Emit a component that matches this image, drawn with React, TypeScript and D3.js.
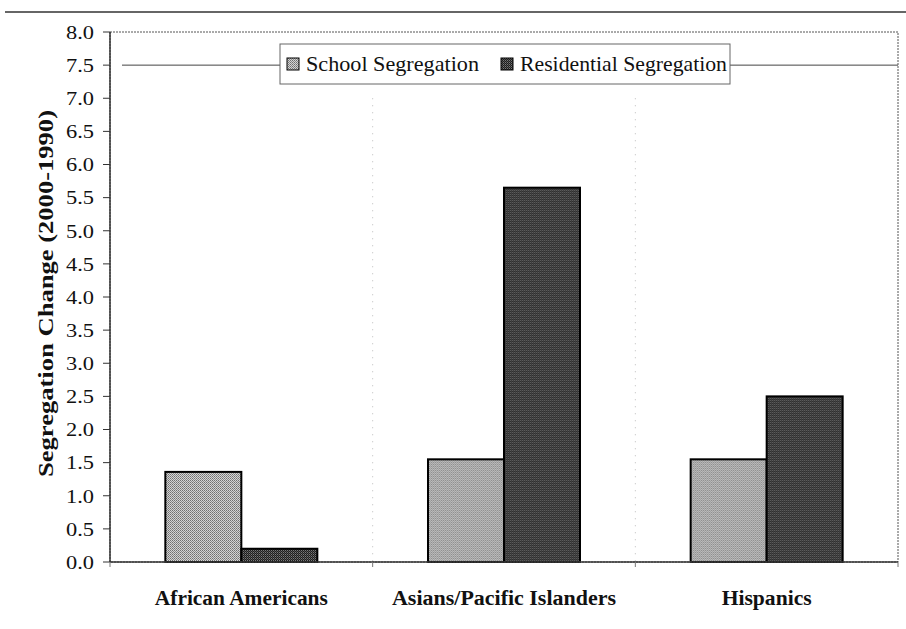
import React from 'react';
import * as d3 from 'd3';

// values
const categories = ['African Americans', 'Asians/Pacific Islanders', 'Hispanics'];
const categoryLabelWidths = [173, 224, 90];
const seriesNames = ['School Segregation', 'Residential Segregation'];
const schoolSegregation = [1.36, 1.55, 1.55];
const residentialSegregation = [0.2, 5.65, 2.5];
const yTickValues = [0, 0.5, 1, 1.5, 2, 2.5, 3, 3.5, 4, 4.5, 5, 5.5, 6, 6.5, 7, 7.5, 8];

const W = 906;
const H = 629;
const margin = { top: 32, right: 8, bottom: 67, left: 110 };
const serif = "'Liberation Serif', 'DejaVu Serif', serif";

const App = () => {
  const plotW = W - margin.left - margin.right;
  const plotH = H - margin.top - margin.bottom;

  const x = d3.scaleBand<string>().domain(categories).range([0, plotW]);
  const inner = d3.scaleBand<string>()
    .domain(['school', 'residential'])
    .range([0, x.step()])
    .paddingInner(0)
    .paddingOuter(0.728);
  const y = d3.scaleLinear().domain([0, 8]).range([plotH, 0]);

  const rows = categories.map((c, i) => ({
    category: c,
    school: schoolSegregation[i],
    residential: residentialSegregation[i],
  }));

  const fills: Record<string, string> = {
    school: 'url(#stippleLight)',
    residential: 'url(#stippleDark)',
  };

  // legend box
  const legX = 280;
  const legY = 44;
  const legW = 450;
  const legH = 40;

  return (
    <div style={{ position: 'absolute', left: 0, top: 0 }}>
      <svg width={W} height={H} style={{ display: 'block', background: '#fff', fontFamily: serif }}>
        <defs>
          <pattern id="stippleLight" width="2" height="2" patternUnits="userSpaceOnUse">
            <rect width="2" height="2" fill="#d4d4d4" />
            <rect x="0" y="0" width="1" height="1" fill="#707070" />
            <rect x="1" y="1" width="1" height="1" fill="#8a8a8a" />
          </pattern>
          <pattern id="stippleDark" width="2" height="2" patternUnits="userSpaceOnUse">
            <rect width="2" height="2" fill="#1e1e1e" />
            <rect x="1" y="0" width="1" height="1" fill="#7a7a7a" />
            <rect x="0" y="1" width="1" height="1" fill="#505050" />
          </pattern>
        </defs>

        {/* page rule above the figure */}
        <line x1={5} x2={W} y1={12} y2={12} stroke="#333" strokeWidth={1.5} />

        <g transform={`translate(${margin.left},${margin.top})`}>
          {/* faint dotted category dividers from the scan */}
          {categories.slice(1).map(c => (
            <line key={c} x1={x(c)!} x2={x(c)!} y1={y(7)} y2={plotH}
              stroke="#bbb" strokeWidth={1} strokeDasharray="1 6" />
          ))}

          {/* line at 7.5 running behind the legend */}
          <line x1={12} x2={plotW} y1={y(7.5)} y2={y(7.5)} stroke="#444" strokeWidth={1} />

          {/* bars */}
          {rows.map(r => (
            <g key={r.category} transform={`translate(${x(r.category)},0)`}>
              {(['school', 'residential'] as const).map(k => (
                <rect key={k}
                  x={inner(k)!}
                  y={y(r[k])}
                  width={inner.bandwidth()}
                  height={plotH - y(r[k])}
                  fill={fills[k]}
                  stroke="#000"
                  strokeWidth={2} />
              ))}
            </g>
          ))}

          {/* plot frame */}
          <rect x={0} y={0} width={plotW} height={plotH} fill="none"
            stroke="#555" strokeWidth={1} strokeDasharray="2 1" />
          <line x1={0} x2={0} y1={0} y2={plotH} stroke="#333" strokeWidth={1.5} />
          <line x1={0} x2={plotW} y1={plotH} y2={plotH} stroke="#333" strokeWidth={1.5} />

          {/* y axis ticks + labels */}
          {yTickValues.map(v => (
            <g key={v} transform={`translate(0,${y(v)})`}>
              <line x1={-7} x2={0} stroke="#333" strokeWidth={1} />
              <text x={-44} dy="0.36em" fontFamily={serif} textLength={28}
                lengthAdjust="spacingAndGlyphs" fontSize={19} fill="#111">{v.toFixed(1)}</text>
            </g>
          ))}

          {/* x axis ticks at category boundaries */}
          {[...categories.map(c => x(c)!), plotW].map((v, i) => (
            <line key={i} x1={v} x2={v} y1={plotH} y2={plotH + 5} stroke="#777" strokeWidth={1} />
          ))}

          {/* category labels */}
          {categories.map((c, i) => (
            <text key={c} x={x(c)! + x.bandwidth() / 2 - categoryLabelWidths[i] / 2} y={plotH + 43}
              textLength={categoryLabelWidths[i]} lengthAdjust="spacingAndGlyphs"
              fontFamily={serif} fontWeight="bold" fontSize={20} fill="#111">{c}</text>
          ))}
        </g>

        {/* y axis title */}
        <text transform={`translate(53,477) rotate(-90)`} textLength={367}
          lengthAdjust="spacingAndGlyphs" fontFamily={serif} fontWeight="bold" fontSize={20} fill="#111">
          Segregation Change (2000-1990)
        </text>

        {/* legend */}
        <g>
          <rect x={legX} y={legY} width={legW} height={legH} fill="#fff"
            stroke="#666" strokeWidth={1} />
          {seriesNames.map((s, i) => {
            const sx = i === 0 ? legX + 7 : legX + 221;
            return (
              <g key={s}>
                <rect x={sx} y={legY + 14} width={12} height={12}
                  fill={i === 0 ? fills.school : fills.residential} stroke="#000" strokeWidth={1} />
                <text x={sx + 19} y={legY + 27} textLength={i === 0 ? 173 : 207}
                  lengthAdjust="spacingAndGlyphs" fontFamily={serif} fontSize={21} fill="#111">{s}</text>
              </g>
            );
          })}
        </g>
      </svg>
    </div>
  );
};

export default App;
